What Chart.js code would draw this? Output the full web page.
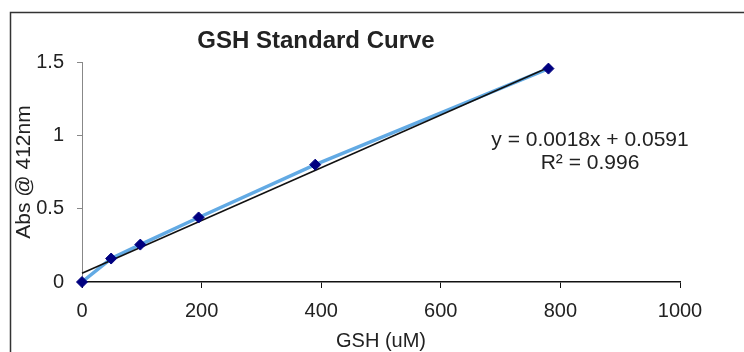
<!DOCTYPE html>
<html>
<head>
<meta charset="utf-8">
<script src="https://cdn.jsdelivr.net/npm/chart.js@4.4.1/dist/chart.umd.min.js"></script>
<style>
  html, body { margin: 0; padding: 0; background: #fff; }
  #wrap { width: 744px; height: 352px; }
</style>
</head>
<body>
<div id="wrap"><canvas id="grafico" width="744" height="352"></canvas></div>
<script>
// valores
const gshConc = [0, 48.75, 97.5, 195, 390, 780];
const absorbancia = [0, 0.16, 0.255, 0.44, 0.80, 1.455];

// linha de tendencia (extremos)
const trendX = [0, 780];
const trendY = [0.059, 1.463];

const xTicks = [0, 200, 400, 600, 800, 1000];
const xTickLabels = ['0', '200', '400', '600', '800', '1000'];
const yTicks = [0, 0.5, 1, 1.5];
const yTickLabels = ['0', '0.5', '1', '1.5'];

const titulo = 'GSH Standard Curve';
const tituloX = 'GSH (uM)';
const tituloY = 'Abs @ 412nm';
const equacao = ['y = 0.0018x + 0.0591', 'R\u00B2 = 0.996'];

const fonte = '"Liberation Sans", Arial, sans-serif';
const corTexto = '#222';

const pontos = gshConc.map((x, i) => ({ x: x, y: absorbancia[i] }));
const tendencia = trendX.map((x, i) => ({ x: x, y: trendY[i] }));

const textosExtras = {
    id: 'textosExtras',
    beforeDraw(chart) {
        const ctx = chart.ctx;
        ctx.save();
        ctx.fillStyle = '#fff';
        ctx.fillRect(0, 0, chart.width, chart.height);
        // moldura
        ctx.strokeStyle = '#333';
        ctx.lineWidth = 1.5;
        ctx.beginPath();
        ctx.moveTo(10.5, chart.height);
        ctx.lineTo(10.5, 12.5);
        ctx.lineTo(chart.width, 12.5);
        ctx.stroke();
        ctx.restore();
    },
    afterDraw(chart) {
        const ctx = chart.ctx;
        ctx.save();
        ctx.fillStyle = corTexto;
        ctx.textAlign = 'center';
        ctx.textBaseline = 'middle';
        ctx.font = 'bold 24px ' + fonte;
        ctx.fillText(titulo, 316, 41);
        ctx.font = '21px ' + fonte;
        ctx.fillText(equacao[0], 590, 140);
        ctx.fillText(equacao[1], 590, 163);
        ctx.restore();
    }
};

const ctxGrafico = document.getElementById('grafico').getContext('2d');
new Chart(ctxGrafico, {
    type: 'scatter',
    data: {
        datasets: [
            {
                label: 'dados',
                data: pontos,
                showLine: true,
                borderColor: '#62aae4',
                borderWidth: 3.5,
                pointRadius: 0,
                order: 3,
                clip: false
            },
            {
                label: 'tendencia',
                data: tendencia,
                showLine: true,
                borderColor: '#111',
                borderWidth: 1.6,
                pointRadius: 0,
                order: 2,
                clip: false
            },
            {
                label: 'marcadores',
                data: pontos,
                showLine: false,
                pointStyle: 'rectRot',
                pointRadius: 5.5,
                backgroundColor: '#000080',
                borderColor: '#000080',
                borderWidth: 1,
                order: 1,
                clip: false
            }
        ]
    },
    options: {
        responsive: false,
        animation: false,
        layout: { padding: { left: 0, right: 64, top: 62, bottom: 0 } },
        plugins: {
            legend: { display: false },
            tooltip: { enabled: false }
        },
        scales: {
            x: {
                type: 'linear',
                min: 0,
                max: 1000,
                afterFit: (s) => { s.height = 70; },
                afterBuildTicks: (s) => { s.ticks = xTicks.map(v => ({ value: v })); },
                ticks: {
                    color: corTexto,
                    font: { family: fonte, size: 20 },
                    padding: 11,
                    maxRotation: 0,
                    callback: (v) => xTickLabels[xTicks.indexOf(v)]
                },
                grid: { drawOnChartArea: false, drawTicks: true, tickLength: 6, tickColor: '#111' },
                border: { display: true, color: '#111', width: 1.5 },
                title: {
                    display: true,
                    text: tituloX,
                    color: corTexto,
                    font: { family: fonte, size: 20, lineHeight: 1.1 },
                    padding: { top: 0, bottom: 0 }
                }
            },
            y: {
                type: 'linear',
                min: 0,
                max: 1.5,
                afterFit: (s) => { s.width = 82; },
                afterBuildTicks: (s) => { s.ticks = yTicks.map(v => ({ value: v })); },
                ticks: {
                    color: corTexto,
                    font: { family: fonte, size: 20 },
                    padding: 13,
                    callback: (v) => yTickLabels[yTicks.indexOf(v)]
                },
                grid: { drawOnChartArea: false, drawTicks: true, tickLength: 5, tickColor: '#888' },
                border: { display: true, color: '#888', width: 1 },
                title: {
                    display: true,
                    text: tituloY,
                    color: corTexto,
                    font: { family: fonte, size: 21, lineHeight: 1.2 },
                    padding: { top: 12, bottom: 0 }
                }
            }
        }
    },
    plugins: [textosExtras]
});
</script>
</body>
</html>
